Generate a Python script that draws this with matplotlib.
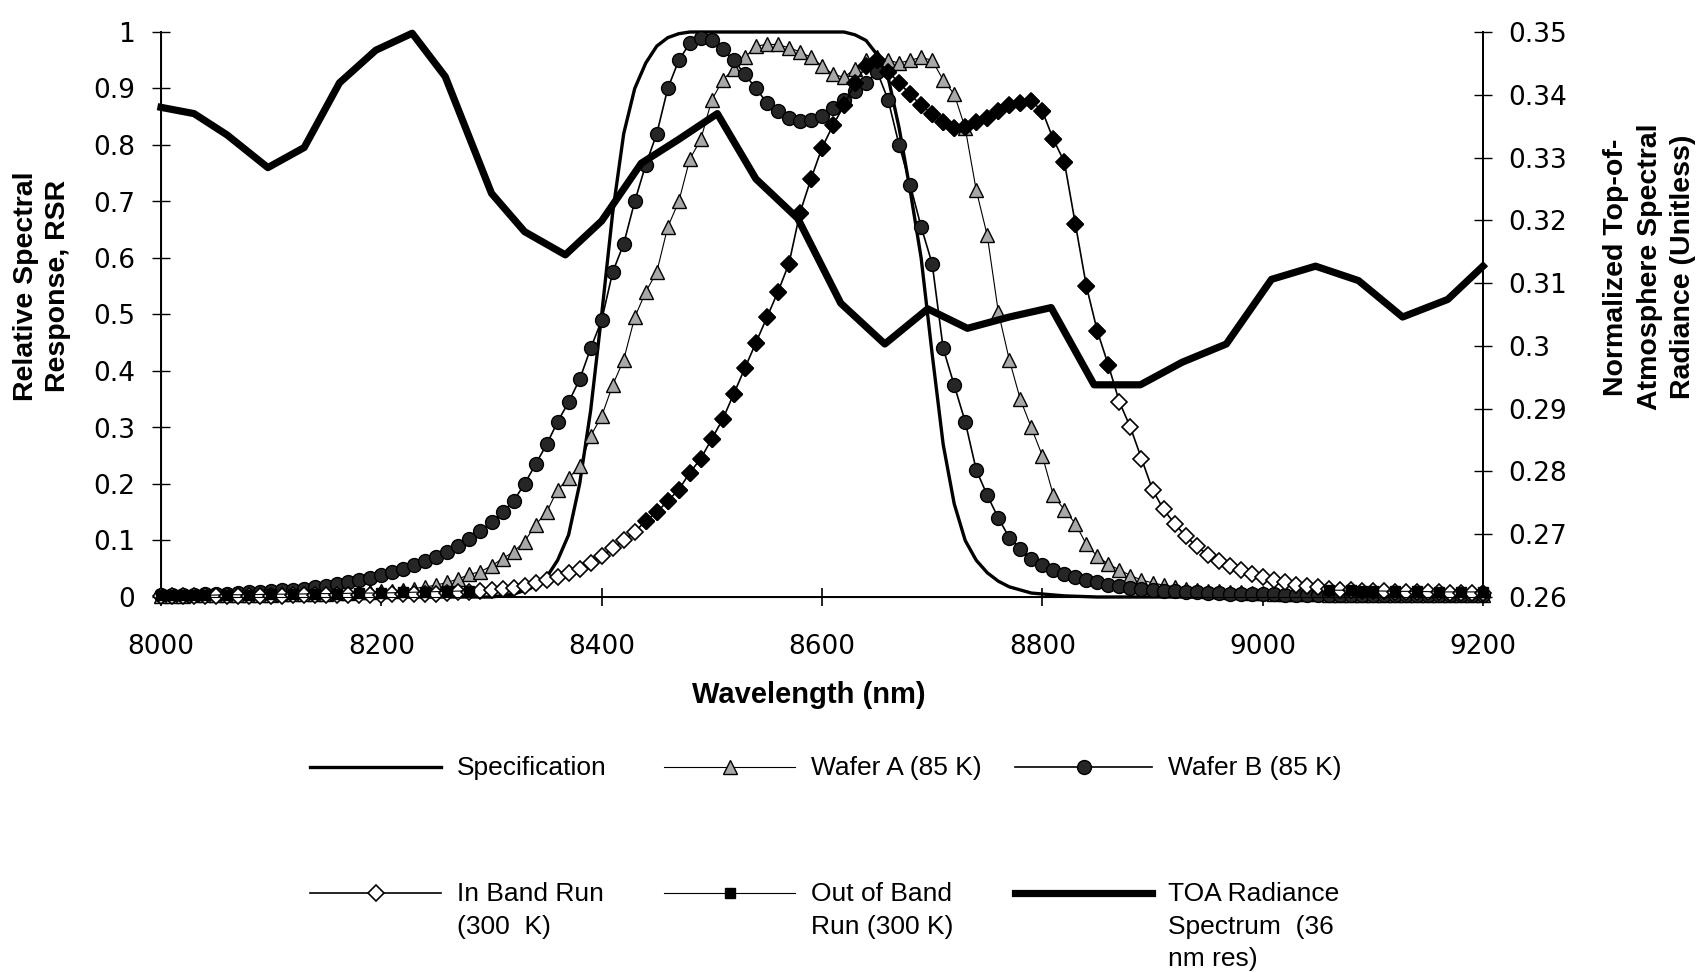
import matplotlib
matplotlib.use('Agg')
import matplotlib.pyplot as plt
import numpy as np

plt.rcParams['font.family'] = ['DejaVu Sans']
LABEL_FONT = 'Liberation Sans'

# RSR curves sampled every 10 nm, 8000 - 9200 nm
wavelength = np.arange(8000, 9201, 10)

wafer_a = [
    0.002, 0.002, 0.002, 0.003, 0.003, 0.003, 0.003, 0.004, 0.004, 0.004,
    0.004, 0.005, 0.005, 0.005, 0.006, 0.006, 0.007, 0.007, 0.008, 0.009,
    0.010, 0.011, 0.013, 0.015, 0.018, 0.021, 0.026, 0.032, 0.040, 0.045,
    0.055, 0.068, 0.080, 0.098, 0.128, 0.150, 0.190, 0.210, 0.232, 0.285,
    0.320, 0.375, 0.420, 0.495, 0.540, 0.575, 0.655, 0.700, 0.775, 0.810,
    0.880, 0.915, 0.935, 0.955, 0.975, 0.978, 0.978, 0.972, 0.965, 0.955,
    0.940, 0.925, 0.920, 0.935, 0.950, 0.955, 0.950, 0.945, 0.950, 0.955,
    0.950, 0.915, 0.890, 0.830, 0.720, 0.640, 0.505, 0.420, 0.350, 0.300,
    0.250, 0.180, 0.154, 0.130, 0.093, 0.072, 0.058, 0.048, 0.038, 0.030,
    0.025, 0.021, 0.018, 0.015, 0.013, 0.011, 0.010, 0.009, 0.008, 0.007,
    0.007, 0.006, 0.006, 0.005, 0.005, 0.005, 0.004, 0.004, 0.004, 0.004,
    0.003, 0.003, 0.003, 0.003, 0.003, 0.003, 0.003, 0.003, 0.003, 0.003,
    0.003]

wafer_b = [
    0.003, 0.003, 0.004, 0.004, 0.005, 0.005, 0.006, 0.007, 0.008, 0.009,
    0.010, 0.012, 0.013, 0.015, 0.017, 0.020, 0.023, 0.026, 0.030, 0.034,
    0.039, 0.044, 0.050, 0.056, 0.063, 0.071, 0.080, 0.090, 0.102, 0.117,
    0.133, 0.150, 0.170, 0.200, 0.235, 0.270, 0.310, 0.345, 0.385, 0.440,
    0.490, 0.575, 0.625, 0.700, 0.765, 0.820, 0.900, 0.950, 0.980, 0.990,
    0.985, 0.970, 0.950, 0.925, 0.900, 0.875, 0.860, 0.848, 0.843, 0.845,
    0.852, 0.865, 0.880, 0.895, 0.910, 0.930, 0.880, 0.800, 0.730, 0.655,
    0.590, 0.440, 0.375, 0.310, 0.225, 0.180, 0.140, 0.105, 0.085, 0.068,
    0.056, 0.048, 0.041, 0.035, 0.030, 0.026, 0.022, 0.019, 0.016, 0.014,
    0.012, 0.011, 0.010, 0.009, 0.008, 0.007, 0.007, 0.006, 0.006, 0.005,
    0.005, 0.005, 0.004, 0.004, 0.004, 0.004, 0.004, 0.003, 0.003, 0.003,
    0.003, 0.003, 0.003, 0.003, 0.003, 0.003, 0.003, 0.003, 0.003, 0.003,
    0.003]

in_band = [
    0.001, 0.001, 0.001, 0.001, 0.002, 0.002, 0.002, 0.002, 0.002, 0.002,
    0.002, 0.002, 0.003, 0.003, 0.003, 0.003, 0.003, 0.004, 0.004, 0.004,
    0.004, 0.005, 0.005, 0.006, 0.006, 0.006, 0.007, 0.008, 0.009, 0.010,
    0.012, 0.014, 0.016, 0.020, 0.025, 0.030, 0.036, 0.043, 0.050, 0.060,
    0.072, 0.086, 0.100, 0.115, 0.135, 0.150, 0.170, 0.190, 0.220, 0.245,
    0.280, 0.315, 0.360, 0.405, 0.450, 0.495, 0.540, 0.590, 0.680, 0.740,
    0.795, 0.835, 0.870, 0.910, 0.940, 0.950, 0.930, 0.910, 0.890, 0.870,
    0.855, 0.840, 0.830, 0.832, 0.840, 0.848, 0.860, 0.870, 0.875, 0.878,
    0.860, 0.810, 0.770, 0.660, 0.550, 0.470, 0.410, 0.345, 0.300, 0.245,
    0.190, 0.155, 0.130, 0.108, 0.090, 0.075, 0.064, 0.055, 0.047, 0.040,
    0.035, 0.030, 0.026, 0.022, 0.019, 0.017, 0.015, 0.013, 0.012, 0.011,
    0.010, 0.010, 0.009, 0.009, 0.008, 0.008, 0.008, 0.007, 0.007, 0.007,
    0.007]

# out of band run: short blue-side and red-side segments
out_band_wl_short = [8000, 8010, 8020, 8030, 8040, 8060, 8080, 8100, 8120, 8140,
                     8160, 8180, 8200, 8220, 8240, 8260, 8280]
out_band_short = [0.004, 0.004, 0.003, 0.003, 0.003, 0.004, 0.004, 0.005, 0.005, 0.006,
                  0.006, 0.007, 0.007, 0.008, 0.009, 0.010, 0.011]
out_band_wl_long = [9060, 9080, 9090, 9100, 9120, 9140, 9160, 9180, 9200]
out_band_long = [0.012, 0.012, 0.011, 0.011, 0.010, 0.010, 0.009, 0.009, 0.009]

spec_wl = [8000, 8300, 8320, 8335, 8350, 8360, 8370, 8380, 8390, 8400,
           8410, 8420, 8430, 8440, 8450, 8460, 8470, 8480, 8620, 8630,
           8640, 8650, 8660, 8670, 8680, 8690, 8700, 8710, 8720, 8730,
           8740, 8750, 8760, 8770, 8790, 8820, 8850, 9200]
spec = [0.0, 0.0, 0.005, 0.015, 0.035, 0.065, 0.11, 0.20, 0.33, 0.50,
        0.68, 0.82, 0.90, 0.945, 0.975, 0.99, 0.997, 1.0, 1.0, 0.995,
        0.985, 0.96, 0.92, 0.83, 0.72, 0.60, 0.43, 0.27, 0.165, 0.10,
        0.065, 0.043, 0.028, 0.018, 0.007, 0.002, 0.0, 0.0]

# TOA radiance, 36 nm resolution (right axis)
toa_wl = [8000, 8030, 8060, 8097, 8130, 8162, 8195, 8228, 8258, 8300,
          8330, 8367, 8400, 8436, 8470, 8505, 8540, 8578, 8617, 8657,
          8696, 8732, 8770, 8808, 8847, 8889, 8927, 8967, 9008, 9048,
          9087, 9127, 9168, 9200]
toa = [0.3380, 0.3370, 0.3336, 0.3284, 0.3316, 0.3419, 0.3471, 0.3498, 0.3429, 0.3243,
       0.3182, 0.3145, 0.3199, 0.3291, 0.3329, 0.3370, 0.3266, 0.3203, 0.3068, 0.3003,
       0.3059, 0.3028, 0.3046, 0.3061, 0.2938, 0.2938, 0.2974, 0.3003, 0.3106, 0.3127,
       0.3104, 0.3046, 0.3074, 0.3127]

spec_style = dict(color='black', lw=2.4)
wafer_a_style = dict(color='black', lw=0.8, marker='^', ms=10, mfc='#a8a8a8', mec='black', mew=1.0)
wafer_b_style = dict(color='black', lw=1.2, marker='o', ms=10, mfc='#262626', mec='black', mew=1.0)
in_band_style = dict(color='black', lw=1.2, marker='D', ms=8, mfc='white', mec='black', mew=1.2)
out_band_style = dict(color='black', lw=0.8, marker='s', ms=7.5, mfc='black', mec='black')
toa_style = dict(color='black', lw=5.2)

W, H = 1707, 972
fig = plt.figure(figsize=(W / 100, H / 100), dpi=100)
ax = fig.add_axes([161 / W, 1 - 597 / H, (1483 - 161) / W, (597 - 32) / H])

ax.plot(spec_wl, spec, clip_on=False, zorder=3, **spec_style)
ax.plot(wavelength, wafer_a, clip_on=False, zorder=4, **wafer_a_style)
ax.plot(wavelength, wafer_b, clip_on=False, zorder=5, **wafer_b_style)
# in band run: measured band in solid markers, tails hollow
ax.plot(wavelength, in_band, clip_on=False, zorder=6, **in_band_style)
core = (wavelength >= 8440) & (wavelength <= 8860)
ax.plot(wavelength[core], np.array(in_band)[core], ls='none', marker='D', ms=8,
        mfc='black', mec='black', clip_on=False, zorder=7)
ax.plot(out_band_wl_short, out_band_short, clip_on=False, zorder=6, **out_band_style)
ax.plot(out_band_wl_long, out_band_long, clip_on=False, zorder=6, **out_band_style)

ax.set_xlim(8000, 9200)
ax.set_ylim(0, 1)
ax.set_xticks(range(8000, 9201, 200))
yt = np.round(np.arange(0, 1.01, 0.1), 1)
ax.set_yticks(yt)
ax.set_yticklabels([f'{v:g}' for v in yt])
ax.tick_params(axis='x', direction='inout', length=13, width=1.2, pad=20, labelsize=19)
ax.tick_params(axis='y', direction='inout', length=13, width=1.0, pad=12, labelsize=19)
ax.spines['top'].set_visible(False)
for s in ['left', 'right', 'bottom']:
    ax.spines[s].set_linewidth(1.4)

ax2 = ax.twinx()
ax2.plot(toa_wl, toa, clip_on=False, zorder=8, **toa_style)
ax2.set_ylim(0.26, 0.35)
rt = np.round(np.arange(0.26, 0.3501, 0.01), 2)
ax2.set_yticks(rt)
ax2.set_yticklabels([f'{v:g}' for v in rt])
ax2.tick_params(axis='y', direction='inout', length=13, width=1.0, pad=12, labelsize=19)
ax2.spines['top'].set_visible(False)
ax2.spines['right'].set_linewidth(1.4)

ax.set_xlabel('Wavelength (nm)', fontsize=21, fontweight='bold', family=LABEL_FONT)
ax.xaxis.set_label_coords(0.49, -0.173)
ax.xaxis.label.set_va('center')
ax.set_ylabel('Relative Spectral\nResponse, RSR', fontsize=20.5, fontweight='bold',
              family=LABEL_FONT, linespacing=1.3)
ax.yaxis.set_label_coords(-0.09, 0.55)
ax.yaxis.label.set_va('center')
ax2.set_ylabel('Normalized Top-of-\nAtmosphere Spectral\nRadiance (Unitless)', fontsize=20.5,
               fontweight='bold', family=LABEL_FONT, linespacing=1.38, rotation=90)
ax2.yaxis.set_label_coords(1.126, 0.584)
ax2.yaxis.label.set_va('center')

# legend laid out like the original: 3 columns, 2 rows, labels wrap below
lax = fig.add_axes([0, 0, 1, 1])
lax.set_xlim(0, W)
lax.set_ylim(H, 0)
lax.axis('off')

legend_entries = [
    ((310, 441), 767, 'Specification', spec_style),
    ((664, 795), 767, 'Wafer A (85 K)', wafer_a_style),
    ((1015, 1152), 767, 'Wafer B (85 K)', wafer_b_style),
    ((310, 441), 893, 'In Band Run\n(300  K)', in_band_style),
    ((664, 795), 893, 'Out of Band\nRun (300 K)', out_band_style),
    ((1015, 1152), 893, 'TOA Radiance\nSpectrum  (36\nnm res)', toa_style),
]
for (x0, x1), y, label, style in legend_entries:
    line_kw = {k: v for k, v in style.items() if k not in ('marker', 'ms', 'mfc', 'mec', 'mew')}
    lax.plot([x0, x1], [y, y], **line_kw)
    if 'marker' in style:
        lax.plot([(x0 + x1) / 2], [y], ls='none', marker=style['marker'], ms=style['ms'],
                 mfc=style.get('mfc'), mec=style.get('mec'), mew=style.get('mew', 1.0))
    lax.text(x1 + 16, y - 11, label, fontsize=19, family=LABEL_FONT,
             ha='left', va='top', linespacing=1.45)

fig.savefig('out.png', dpi=100)
